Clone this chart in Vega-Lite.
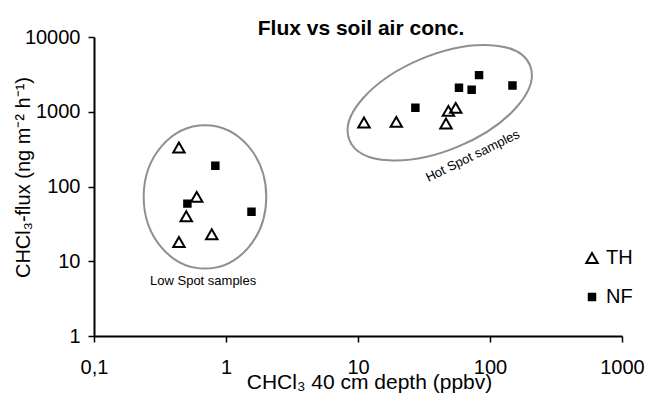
{
  "$schema": "https://vega.github.io/schema/vega-lite/v6.json",
  "autosize": "none",
  "width": 528,
  "height": 299,
  "padding": {"left": 94, "top": 37, "right": 25, "bottom": 63},
  "background": "white",
  "config": {
    "view": {"stroke": null},
    "font": "Liberation Sans",
    "axis": {
      "grid": false,
      "domainColor": "black",
      "domainWidth": 2,
      "tickColor": "black",
      "tickWidth": 1.5,
      "tickSize": 6,
      "labelColor": "black",
      "titleColor": "black",
      "labelFont": "Liberation Sans",
      "titleFont": "Liberation Sans",
      "labelFontSize": 20,
      "titleFontSize": 20,
      "titleFontWeight": "normal",
      "labelOverlap": false,
      "labelFlush": false,
      "labelBound": false
    },
    "title": {"font": "Liberation Sans", "fontSize": 21, "fontWeight": "bold", "color": "black"}
  },
  "title": {"text": "Flux vs soil air conc.", "anchor": "middle", "baseline": "alphabetic", "offset": -29, "dx": 3},
  "datasets": {
    "samples": [
      {"depth": 0.44, "flux": 333, "site": "TH"},
      {"depth": 0.60, "flux": 72.6, "site": "TH"},
      {"depth": 0.50, "flux": 40, "site": "TH"},
      {"depth": 0.44, "flux": 18.1, "site": "TH"},
      {"depth": 0.78, "flux": 23, "site": "TH"},
      {"depth": 11.1, "flux": 719, "site": "TH"},
      {"depth": 19.5, "flux": 733, "site": "TH"},
      {"depth": 46.4, "flux": 697, "site": "TH"},
      {"depth": 48.4, "flux": 1028, "site": "TH"},
      {"depth": 55, "flux": 1128, "site": "TH"},
      {"depth": 0.83, "flux": 189, "site": "NF"},
      {"depth": 0.51, "flux": 59, "site": "NF"},
      {"depth": 1.56, "flux": 46, "site": "NF"},
      {"depth": 27.2, "flux": 1128, "site": "NF"},
      {"depth": 58.2, "flux": 2089, "site": "NF"},
      {"depth": 72.6, "flux": 1963, "site": "NF"},
      {"depth": 82.6, "flux": 3090, "site": "NF"},
      {"depth": 148, "flux": 2250, "site": "NF"}
    ],
    "lowEllipse": [{"depth": 0.693, "flux": 72.6}],
    "hotEllipse": [{"depth": 41.6, "flux": 1319}],
    "lowLabel": [{"depth": 0.671, "flux": 4.77, "label": "Low Spot samples"}],
    "hotLabel": [{"depth": 74, "flux": 256, "label": "Hot Spot samples"}]
  },
  "layer": [
    {
      "data": {"name": "lowEllipse"},
      "mark": {
        "type": "point",
        "shape": "M 0.855 0 C 0.855 0.5523 0.4722 1 0 1 C -0.4722 1 -0.855 0.5523 -0.855 0 C -0.855 -0.5523 -0.4722 -1 0 -1 C 0.4722 -1 0.855 -0.5523 0.855 0 Z",
        "size": 20563,
        "filled": false,
        "stroke": "#8f8f8f",
        "strokeWidth": 2,
        "opacity": 1
      },
      "encoding": {
        "x": {"field": "depth", "type": "quantitative"},
        "y": {"field": "flux", "type": "quantitative"}
      }
    },
    {
      "data": {"name": "hotEllipse"},
      "mark": {
        "type": "point",
        "shape": "M 1 0 C 1 0.269 0.5523 0.487 0 0.487 C -0.5523 0.487 -1 0.269 -1 0 C -1 -0.269 -0.5523 -0.487 0 -0.487 C 0.5523 -0.487 1 -0.269 1 0 Z",
        "size": 38182,
        "angle": 337.4,
        "filled": false,
        "stroke": "#8f8f8f",
        "strokeWidth": 2,
        "opacity": 1
      },
      "encoding": {
        "x": {"field": "depth", "type": "quantitative"},
        "y": {"field": "flux", "type": "quantitative"}
      }
    },
    {
      "data": {"name": "lowLabel"},
      "mark": {"type": "text", "font": "Liberation Sans", "fontSize": 13, "align": "center", "baseline": "alphabetic", "color": "black"},
      "encoding": {
        "x": {"field": "depth", "type": "quantitative"},
        "y": {"field": "flux", "type": "quantitative"},
        "text": {"field": "label"}
      }
    },
    {
      "data": {"name": "hotLabel"},
      "mark": {"type": "text", "font": "Liberation Sans", "fontSize": 13, "align": "center", "baseline": "middle", "angle": 334, "color": "black"},
      "encoding": {
        "x": {"field": "depth", "type": "quantitative"},
        "y": {"field": "flux", "type": "quantitative"},
        "text": {"field": "label"}
      }
    },
    {
      "data": {"name": "samples"},
      "mark": {"type": "point", "stroke": "black", "strokeWidth": 2, "opacity": 1},
      "encoding": {
        "x": {
          "field": "depth",
          "type": "quantitative",
          "scale": {"type": "log", "domain": [0.1, 1000], "nice": false},
          "axis": {
            "values": [0.1, 1, 10, 100, 1000],
            "labelExpr": "datum.value < 1 ? '0,1' : format(datum.value, 'd')",
            "labelBaseline": "top",
            "labelPadding": 15,
            "title": "CHCl₃ 40 cm depth (ppbv)",
            "titleFontSize": 21,
            "titleX": 275,
            "titleY": 52,
            "titleAlign": "center",
            "titleBaseline": "alphabetic"
          }
        },
        "y": {
          "field": "flux",
          "type": "quantitative",
          "scale": {"type": "log", "domain": [1, 10000], "nice": false},
          "axis": {
            "values": [1, 10, 100, 1000, 10000],
            "labelExpr": "format(datum.value, 'd')",
            "labelPadding": 8,
            "title": "CHCl₃-flux (ng m⁻² h⁻¹)",
            "titleX": -71,
            "titleY": 140,
            "titleAngle": 270,
            "titleAlign": "center",
            "titleBaseline": "middle"
          }
        },
        "shape": {
          "field": "site",
          "type": "nominal",
          "scale": {"domain": ["TH", "NF"], "range": ["triangle-up", "square"]},
          "legend": {
            "orient": "none",
            "legendX": 488,
            "legendY": 211,
            "title": null,
            "padding": 0,
            "labelFont": "Liberation Sans",
            "labelFontSize": 20,
            "labelColor": "black",
            "labelOffset": 4,
            "rowPadding": 19,
            "symbolStrokeColor": "black",
            "symbolStrokeWidth": 2
          }
        },
        "fill": {
          "field": "site",
          "type": "nominal",
          "scale": {"domain": ["TH", "NF"], "range": ["transparent", "black"]}
        },
        "size": {
          "field": "site",
          "type": "nominal",
          "scale": {"domain": ["TH", "NF"], "range": [130, 42]}
        }
      }
    }
  ]
}
